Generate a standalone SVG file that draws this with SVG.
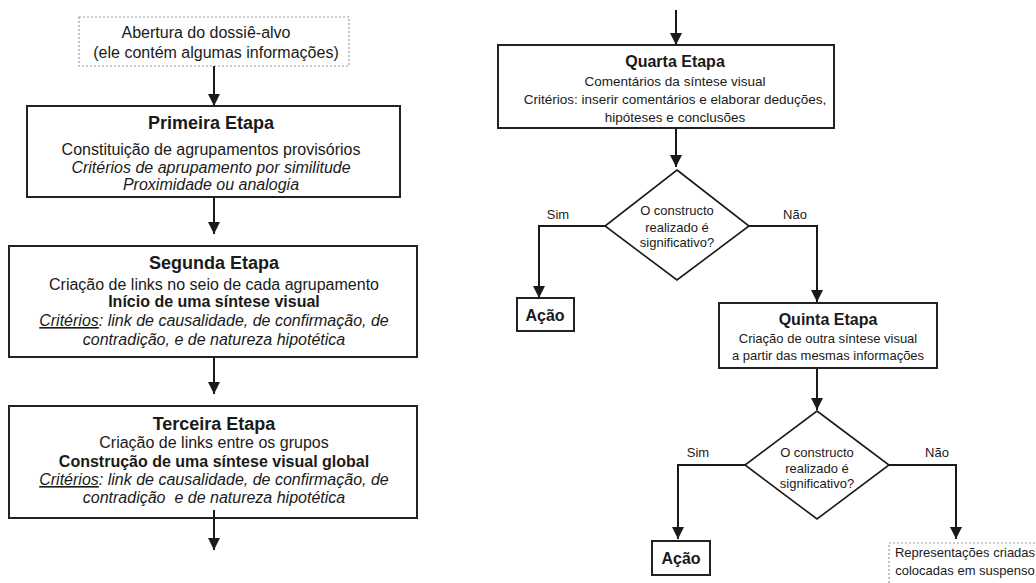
<svg xmlns="http://www.w3.org/2000/svg" width="1036" height="583" viewBox="0 0 1036 583">
  <style>
    text { font-family: "Liberation Sans", Arial, sans-serif; fill: #1a1a1a; text-anchor: middle; }
    .box { fill: #ffffff; stroke: #222222; stroke-width: 2; }
    .dotbox { fill: #ffffff; stroke: #9a9a9a; stroke-width: 1.2; stroke-dasharray: 2 2; }
    .dia { fill: #ffffff; stroke: #1a1a1a; stroke-width: 1.6; }
    .title { font-weight: bold; font-size: 18px; }
    .body { font-size: 16px; }
    .it { font-style: italic; }
    .b { font-weight: bold; }
    .ul { text-decoration: underline; }
    .rtitle { font-weight: bold; font-size: 16px; }
    .rbody { font-size: 13.5px; }
    .small { font-size: 13px; }
    .acao { font-weight: bold; font-size: 16px; }
    .wire { fill: none; stroke: #1a1a1a; stroke-width: 2; }
  </style>
  <defs>
    <marker id="arrow" markerUnits="userSpaceOnUse" markerWidth="12" markerHeight="12" viewBox="0 0 12 12" refX="12" refY="6" orient="auto">
      <path d="M0,0 L12,6 L0,12 Z" fill="#1a1a1a"/>
    </marker>
  </defs>

  <rect width="1036" height="583" fill="#ffffff"/>

  <!-- opening of the target dossier -->
  <g id="abertura">
    <rect class="dotbox" x="79" y="17" width="270" height="49"/>
    <text class="body" font-size="15.5" x="206" y="38">Abertura do dossiê-alvo</text>
    <text class="body" font-size="15.5" x="216" y="58">(ele contém algumas informações)</text>
  </g>

  <!-- step 1 -->
  <g id="primeira">
    <rect class="box" x="27" y="106" width="373" height="91"/>
    <text class="title" x="211" y="129">Primeira Etapa</text>
    <text class="body" x="211" y="155">Constituição de agrupamentos provisórios</text>
    <text class="body it" x="211" y="173">Critérios de aprupamento por similitude</text>
    <text class="body it" x="211" y="190">Proximidade ou analogia</text>
  </g>

  <!-- step 2 -->
  <g id="segunda">
    <rect class="box" x="9" y="246" width="408" height="111"/>
    <text class="title" x="214" y="269">Segunda Etapa</text>
    <text class="body" x="214" y="290">Criação de links no seio de cada agrupamento</text>
    <text class="body b" x="214" y="307">Início de uma síntese visual</text>
    <text class="body it" x="214" y="326"><tspan class="ul">Critérios</tspan>: link de causalidade, de confirmação, de</text>
    <text class="body it" x="214" y="345">contradição, e de natureza hipotética</text>
  </g>

  <!-- step 3 -->
  <g id="terceira">
    <rect class="box" x="9" y="406" width="408" height="112"/>
    <text class="title" x="214" y="430">Terceira Etapa</text>
    <text class="body" x="214" y="448">Criação de links entre os grupos</text>
    <text class="body b" x="214" y="467">Construção de uma síntese visual global</text>
    <text class="body it" x="214" y="485"><tspan class="ul">Critérios</tspan>: link de causalidade, de confirmação, de</text>
    <text class="body it" x="214" y="503" xml:space="preserve">contradição  e de natureza hipotética</text>
  </g>

  <!-- step 4 -->
  <g id="quarta">
    <rect class="box" x="498" y="45" width="336" height="83"/>
    <text class="rtitle" x="675" y="67">Quarta Etapa</text>
    <text class="rbody" x="675" y="86">Comentários da síntese visual</text>
    <text class="rbody" x="675" y="104">Critérios: inserir comentários e elaborar deduções,</text>
    <text class="rbody" x="675" y="122">hipóteses e conclusões</text>
  </g>

  <!-- first decision -->
  <g id="decisao1">
    <polygon class="dia" points="677,170 749,226 677,280 605,226"/>
    <text class="small" x="677" y="215">O constructo</text>
    <text class="small" x="677" y="232">realizado é</text>
    <text class="small" x="677" y="247">significativo?</text>
  </g>

  <g id="acao1">
    <rect class="box" x="517" y="298" width="57" height="33"/>
    <text class="acao" x="545" y="321">Ação</text>
  </g>

  <!-- step 5 -->
  <g id="quinta">
    <rect class="box" x="719" y="303" width="218" height="65"/>
    <text class="rtitle" font-size="15" x="828" y="325">Quinta Etapa</text>
    <text class="small" x="828" y="343">Criação de outra síntese visual</text>
    <text class="small" x="828" y="360">a partir das mesmas informações</text>
  </g>

  <!-- second decision -->
  <g id="decisao2">
    <polygon class="dia" points="817,411 889,465 817,519 745,465"/>
    <text class="small" x="817" y="457">O constructo</text>
    <text class="small" x="817" y="473">realizado é</text>
    <text class="small" x="817" y="488">significativo?</text>
  </g>

  <g id="acao2">
    <rect class="box" x="652" y="541" width="58" height="34"/>
    <text class="acao" x="681" y="564">Ação</text>
  </g>

  <!-- representations put on hold -->
  <g id="suspenso">
    <rect class="dotbox" x="889" y="543" width="160" height="50"/>
    <text font-size="13" x="965" y="557">Representações criadas</text>
    <text font-size="13" x="965" y="575">colocadas em suspenso</text>
  </g>

  <!-- connectors, drawn last so the exit of step 3 crosses its last line -->
  <g id="connectors">
    <line class="wire" x1="214" y1="66" x2="214" y2="106" marker-end="url(#arrow)"/>
    <line class="wire" x1="214" y1="197" x2="214" y2="234" marker-end="url(#arrow)"/>
    <line class="wire" x1="214" y1="357" x2="214" y2="394" marker-end="url(#arrow)"/>
    <line class="wire" x1="214" y1="510" x2="214" y2="550" marker-end="url(#arrow)"/>

    <line class="wire" x1="676" y1="10" x2="676" y2="45" marker-end="url(#arrow)"/>
    <line class="wire" x1="676" y1="128" x2="676" y2="167" marker-end="url(#arrow)"/>
    <polyline class="wire" points="605,226 539,226 539,298" marker-end="url(#arrow)"/>
    <polyline class="wire" points="749,226 817,226 817,302" marker-end="url(#arrow)"/>
    <line class="wire" x1="817" y1="368" x2="817" y2="410" marker-end="url(#arrow)"/>
    <polyline class="wire" points="745,465 678,465 678,539" marker-end="url(#arrow)"/>
    <polyline class="wire" points="889,465 956,465 956,539" marker-end="url(#arrow)"/>

    <text class="small" x="558" y="219">Sim</text>
    <text class="small" x="795" y="219">Não</text>
    <text class="small" x="698" y="457">Sim</text>
    <text class="small" x="937" y="457">Não</text>
  </g>
</svg>
